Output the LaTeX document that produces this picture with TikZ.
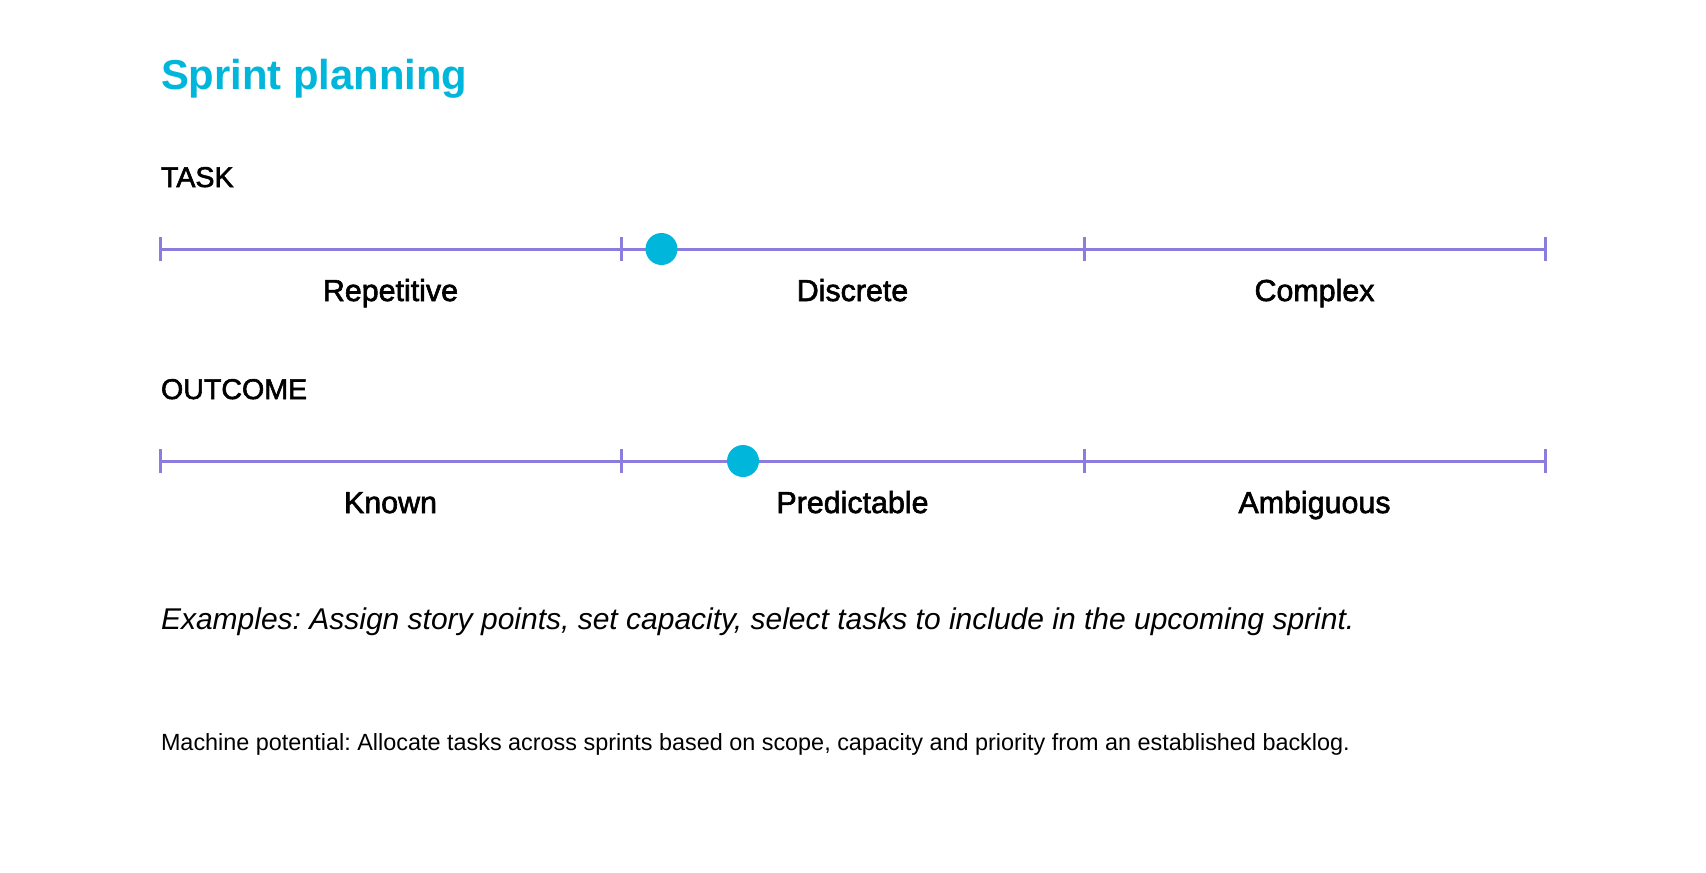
\documentclass[tikz,border=0pt]{standalone}
\usepackage{fontspec}
\setmainfont{Liberation Sans}
\newfontfamily\medfont{Liberation Sans}[FakeBold=2.0]
\definecolor{brandcyan}{RGB}{0,183,219}
\definecolor{scalepurple}{RGB}{139,125,222}
\frenchspacing
\begin{document}
\begin{tikzpicture}[x=0.5pt,y=-0.5pt,
  txt/.style={inner sep=0pt, outer sep=0pt},
  heading/.style={txt, anchor=base west, font=\medfont\fontsize{14.3}{17}\selectfont},
  lab/.style={txt, anchor=base, font=\medfont\fontsize{15.2}{18}\selectfont},
  axis/.style={draw=scalepurple, line width=1.5pt},
  dot/.style={circle, fill=brandcyan, minimum size=16pt, inner sep=0pt}]
\useasboundingbox (0,0) rectangle (1706,872);
\fill[white] (0,0) rectangle (1706,872);
\node[txt, anchor=base west, font=\bfseries\fontsize{20.9}{24}\selectfont, text=brandcyan] (title) at (161,90) {Sprint planning};
% TASK row
\node[heading] (task) at (161,187) {TASK};
\coordinate (t0) at (160,249);
\coordinate (t1) at (621,249);
\coordinate (t2) at (1084,249);
\coordinate (t3) at (1545,249);
\draw[axis] (t0) -- (t3);
\foreach \c in {t0,t1,t2,t3} {\draw[axis] ([yshift=6pt]\c) -- ([yshift=-6pt]\c);}
\node[dot] (taskdot) at (661.5,249) {};
\node[lab] (rep) at (390.5,301) {Repetitive};
\node[lab] (dis) at (852.5,301) {Discrete};
\node[lab] (com) at (1314.5,301) {Complex};
% OUTCOME row
\node[heading] (outcome) at (161,399) {OUTCOME};
\coordinate (o0) at (160,461);
\coordinate (o1) at (621,461);
\coordinate (o2) at (1084,461);
\coordinate (o3) at (1545,461);
\draw[axis] (o0) -- (o3);
\foreach \c in {o0,o1,o2,o3} {\draw[axis] ([yshift=6pt]\c) -- ([yshift=-6pt]\c);}
\node[dot] (outdot) at (743,461) {};
\node[lab] (kno) at (390.5,513) {Known};
\node[lab] (pre) at (852.5,513) {Predictable};
\node[lab] (amb) at (1314.5,513) {Ambiguous};
% texts
\node[txt, anchor=base west, font=\itshape\fontsize{15.0}{18}\selectfont] (examples) at (161,629) {Examples: Assign story points, set capacity, select tasks to include in the upcoming sprint.};
\node[txt, anchor=base west, font=\fontsize{11.7}{14}\selectfont] (machine) at (161,750) {Machine potential: Allocate tasks across sprints based on scope, capacity and priority from an established backlog.};
\end{tikzpicture}
\end{document}
